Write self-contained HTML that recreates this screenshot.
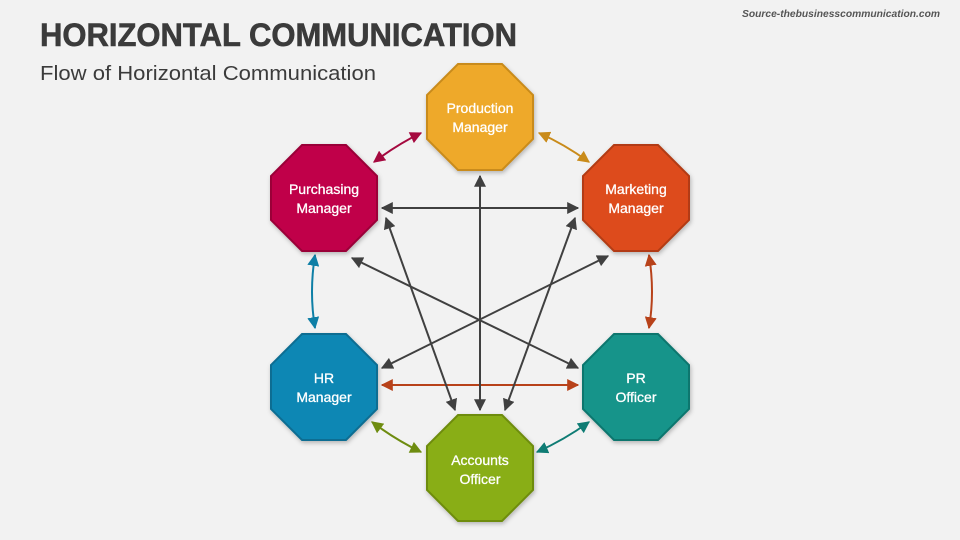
<!DOCTYPE html>
<html><head><meta charset="utf-8"><style>
html,body{margin:0;padding:0;background:#f2f2f2;}
svg{display:block;}
</style></head><body>
<svg width="960" height="540" viewBox="0 0 960 540" xmlns="http://www.w3.org/2000/svg" font-family="Liberation Sans, sans-serif">
<defs>
<filter id="sh" x="-20%" y="-20%" width="140%" height="140%"><feDropShadow dx="1" dy="2" stdDeviation="2" flood-color="#000" flood-opacity="0.25"/></filter>
<marker id="mg" viewBox="0 0 10 10" refX="9" refY="5" markerWidth="6" markerHeight="6" orient="auto-start-reverse"><path d="M0,0L10,5L0,10z" fill="#404040"/></marker>
<marker id="mc" viewBox="0 0 10 10" refX="9" refY="5" markerWidth="6" markerHeight="6" orient="auto-start-reverse"><path d="M0,0L10,5L0,10z" fill="#A5093F"/></marker>
<marker id="mo" viewBox="0 0 10 10" refX="9" refY="5" markerWidth="6" markerHeight="6" orient="auto-start-reverse"><path d="M0,0L10,5L0,10z" fill="#C98B1A"/></marker>
<marker id="mb" viewBox="0 0 10 10" refX="9" refY="5" markerWidth="6" markerHeight="6" orient="auto-start-reverse"><path d="M0,0L10,5L0,10z" fill="#0E7FA6"/></marker>
<marker id="mr" viewBox="0 0 10 10" refX="9" refY="5" markerWidth="6" markerHeight="6" orient="auto-start-reverse"><path d="M0,0L10,5L0,10z" fill="#B8421A"/></marker>
<marker id="ml" viewBox="0 0 10 10" refX="9" refY="5" markerWidth="6" markerHeight="6" orient="auto-start-reverse"><path d="M0,0L10,5L0,10z" fill="#6E8C10"/></marker>
<marker id="mt" viewBox="0 0 10 10" refX="9" refY="5" markerWidth="6" markerHeight="6" orient="auto-start-reverse"><path d="M0,0L10,5L0,10z" fill="#0F7C74"/></marker>
<polygon id="oct" points="-22,-53 22,-53 53,-22 53,22 22,53 -22,53 -53,22 -53,-22"/>
</defs>

<text x="40" y="46" font-size="32" font-weight="bold" fill="#3b3b3b" stroke="#3b3b3b" stroke-width="0.6" textLength="477" lengthAdjust="spacingAndGlyphs">HORIZONTAL COMMUNICATION</text>
<text x="40" y="80" font-size="20" fill="#3b3b3b" textLength="336" lengthAdjust="spacingAndGlyphs">Flow of Horizontal Communication</text>
<text x="940" y="17" font-size="10" font-weight="bold" font-style="italic" fill="#555" text-anchor="end" textLength="198" lengthAdjust="spacingAndGlyphs">Source-thebusinesscommunication.com</text>

<g stroke-width="2" fill="none">
<path d="M374,162 Q398,144 421,133" stroke="#A5093F" marker-start="url(#mc)" marker-end="url(#mc)"/>
<path d="M539,133 Q564,144 589,162" stroke="#C98B1A" marker-start="url(#mo)" marker-end="url(#mo)"/>
<path d="M315,255 Q309,292 315,328" stroke="#0E7FA6" marker-start="url(#mb)" marker-end="url(#mb)"/>
<path d="M649,255 Q655,292 649,328" stroke="#B8421A" marker-start="url(#mr)" marker-end="url(#mr)"/>
<path d="M372,422 Q396,440 421,452" stroke="#6E8C10" marker-start="url(#ml)" marker-end="url(#ml)"/>
<path d="M537,452 Q564,440 589,422" stroke="#0F7C74" marker-start="url(#mt)" marker-end="url(#mt)"/>
<line x1="382" y1="208" x2="578" y2="208" stroke="#404040" marker-start="url(#mg)" marker-end="url(#mg)"/>
<line x1="382" y1="385" x2="578" y2="385" stroke="#B8421A" marker-start="url(#mr)" marker-end="url(#mr)"/>
<line x1="480" y1="410" x2="480" y2="176" stroke="#404040" marker-start="url(#mg)" marker-end="url(#mg)"/>
<line x1="386" y1="218" x2="455" y2="410" stroke="#404040" marker-start="url(#mg)" marker-end="url(#mg)"/>
<line x1="575" y1="218" x2="505" y2="410" stroke="#404040" marker-start="url(#mg)" marker-end="url(#mg)"/>
<line x1="352" y1="258" x2="578" y2="368" stroke="#404040" marker-start="url(#mg)" marker-end="url(#mg)"/>
<line x1="608" y1="256" x2="382" y2="368" stroke="#404040" marker-start="url(#mg)" marker-end="url(#mg)"/>
</g>

<g filter="url(#sh)" stroke-width="2">
<use href="#oct" x="480" y="117" fill="#EEA92A" stroke="#C98B1A"/>
<use href="#oct" x="324" y="198" fill="#C0004A" stroke="#9A0038"/>
<use href="#oct" x="636" y="198" fill="#DD4C1C" stroke="#B23A12"/>
<use href="#oct" x="324" y="387" fill="#0E87B4" stroke="#0A6D92"/>
<use href="#oct" x="636" y="387" fill="#12948A" stroke="#0D766E"/>
<use href="#oct" x="480" y="468" fill="#89AE14" stroke="#6E8C10"/>
</g>

<g fill="#fff" stroke="#fff" stroke-width="0.3" font-size="14" text-anchor="middle">
<text x="480" y="113">Production</text><text x="480" y="132">Manager</text>
<text x="324" y="194">Purchasing</text><text x="324" y="213">Manager</text>
<text x="636" y="194">Marketing</text><text x="636" y="213">Manager</text>
<text x="324" y="383">HR</text><text x="324" y="402">Manager</text>
<text x="636" y="383">PR</text><text x="636" y="402">Officer</text>
<text x="480" y="465">Accounts</text><text x="480" y="484">Officer</text>
</g>
</svg>
</body></html>
